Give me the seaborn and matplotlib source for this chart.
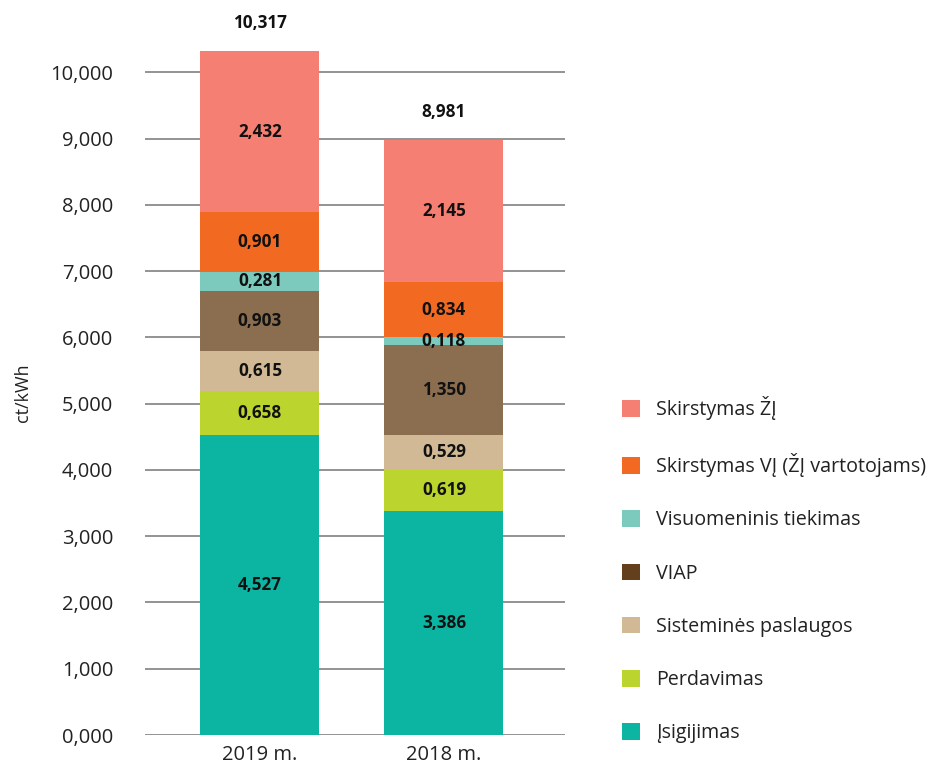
import matplotlib
matplotlib.use("Agg")
import matplotlib.pyplot as plt
from matplotlib.patches import Patch
import seaborn as sns
import numpy as np
import pandas as pd

years = ["2019 m.", "2018 m."]
components = ["Įsigijimas", "Perdavimas", "Sisteminės paslaugos", "VIAP",
              "Visuomeninis tiekimas", "Skirstymas VĮ (ŽĮ vartotojams)", "Skirstymas ŽĮ"]
isigijimas = [4.527, 3.386]
perdavimas = [0.658, 0.619]
sistemines = [0.615, 0.529]
viap = [0.903, 1.350]
visuomeninis = [0.281, 0.118]
skirstymas_vj = [0.901, 0.834]
skirstymas_zj = [2.432, 2.145]
totals = [10.317, 8.981]

bar_colors = ["#0bb5a2", "#bcd42e", "#d2b995", "#8b6d4f", "#7ccabd", "#f26a22", "#f47f72"]
legend_colors = ["#0bb5a2", "#bcd42e", "#d2b995", "#63401b", "#7ccabd", "#f26a22", "#f47f72"]

series = [isigijimas, perdavimas, sistemines, viap, visuomeninis, skirstymas_vj, skirstymas_zj]
vals = np.array(series) * 1000.0
cums = np.cumsum(vals, axis=0)

sns.set_theme(style="white")
plt.rcParams["font.family"] = ["Open Sans", "DejaVu Sans"]

fig = plt.figure(figsize=(9.31, 7.7), dpi=100)
ax = fig.add_axes([145/931, 1-735/770, 420/931, 729/770])

# draw from top cumulative down so lower layers overwrite
for i in range(len(components)-1, -1, -1):
    df = pd.DataFrame({"year": years, "v": cums[i]})
    sns.barplot(data=df, x="year", y="v", color=bar_colors[i], saturation=1,
                width=0.647, ax=ax, zorder=3, linewidth=0)

for i in range(len(components)):
    for j in range(len(years)):
        y = cums[i, j] - vals[i, j] / 2
        txt = f"{series[i][j]:.3f}".replace(".", ",")
        ax.text(j, y, txt, ha="center", va="center", fontsize=12.3,
                fontweight="bold", color="#111111", zorder=5)

for j in range(len(years)):
    ax.annotate(f"{totals[j]:.3f}".replace(".", ","), xy=(j, cums[-1, j]),
                xytext=(0, 20), textcoords="offset points", ha="center",
                va="center", fontsize=12.3, fontweight="bold", color="#111111")

ax.set_xlim(-0.625, 1.658)
ax.set_ylim(0, 11000)
yt = np.arange(0, 10001, 1000)
ax.set_yticks(yt)
ax.set_yticklabels([f"{v/1000:.3f}".replace(".", ",") for v in yt], fontsize=14.5, color="#222222")
ax.tick_params(axis="x", labelsize=14.5, colors="#222222", length=0, pad=7)
ax.tick_params(axis="y", length=0, pad=23)
for s in ax.spines.values():
    s.set_visible(False)
for v in yt:
    ax.axhline(v, color="#8a8a8a", linewidth=1.3, zorder=1)
ax.set_xlabel("")
ax.set_ylabel("ct/kWh", fontsize=13, color="#222222")
ax.yaxis.set_label_coords(-0.27, (735-393)/729)

handles = [Patch(facecolor=legend_colors[i], edgecolor="none", label=components[i])
           for i in range(len(components)-1, -1, -1)]
fig.legend(handles=handles, loc="upper left", bbox_to_anchor=(622/931, 1-396/770),
           frameon=False, fontsize=14.2, handlelength=0.92, handleheight=0.92,
           handletextpad=0.8, labelspacing=1.68, borderpad=0, borderaxespad=0,
           labelcolor="#222222")

fig.savefig("out.png", dpi=100)
